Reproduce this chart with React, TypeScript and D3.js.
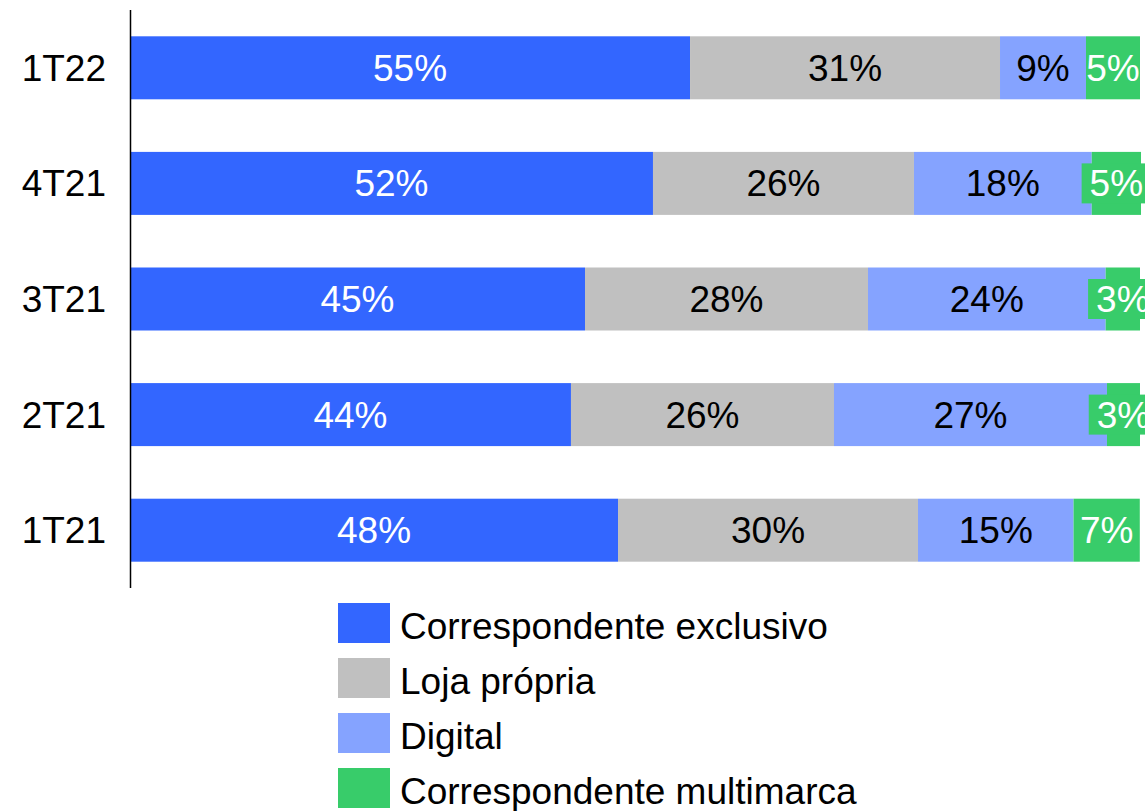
import React, { useEffect, useRef } from 'react';
import * as d3 from 'd3';

const periods = ['1T22', '4T21', '3T21', '2T21', '1T21'];
const seriesNames = ['Correspondente exclusivo', 'Loja própria', 'Digital', 'Correspondente multimarca'];
const seriesColors = ['#3366ff', '#c0c0c0', '#85a3ff', '#38cc6a'];
const labelColors = ['#ffffff', '#000000', '#000000', '#ffffff'];

// share of each channel per period (%)
const exclusivo = [55.45, 51.78, 45.05, 43.66, 48.32];
const lojaPropria = [30.69, 25.84, 28.02, 26.04, 29.7];
const digital = [8.51, 17.6, 23.53, 27.03, 15.4];
const multimarca = [5.35, 4.88, 3.4, 3.27, 6.56];

const W = 1145;
const H = 811;
const FONT = '"Liberation Sans", Arial, sans-serif';
const FS = 37;

export default function App() {
  const svgRef = useRef<SVGSVGElement>(null);

  useEffect(() => {
    if (!svgRef.current) return;
    const svg = d3.select(svgRef.current);
    svg.selectAll('*').remove();

    const rows = periods.map((p, i) => ({
      period: p,
      values: [exclusivo[i], lojaPropria[i], digital[i], multimarca[i]],
    }));

    const x = d3.scaleLinear().domain([0, 100]).range([130, 1140]);
    const y = d3.scaleBand()
      .domain(periods)
      .range([10, 588])
      .paddingInner(0.455)
      .paddingOuter(0.2275);

    const g = svg.append('g').style('font-family', FONT).style('font-size', `${FS}px`);

    // Bars
    rows.forEach(row => {
      let acc = 0;
      const segs = row.values.map((v, k) => {
        const s = { k, x0: acc, x1: acc + v, v };
        acc += v;
        return s;
      });
      const y0 = y(row.period)!;
      const bh = y.bandwidth();

      segs.forEach(s => {
        g.append('rect')
          .attr('x', x(s.x0))
          .attr('y', y0)
          .attr('width', x(s.x1) - x(s.x0))
          .attr('height', bh)
          .attr('fill', seriesColors[s.k]);
      });

      segs.forEach(s => {
        const cx = (x(s.x0) + x(s.x1)) / 2;
        const cy = y0 + bh / 2;
        const label = `${Math.round(s.v)}%`;
        const t = g.append('text')
          .attr('x', cx)
          .attr('y', cy)
          .attr('dy', '0.35em')
          .attr('text-anchor', 'middle')
          .attr('fill', labelColors[s.k])
          .text(label);
        const tw = (t.node() as SVGTextElement).getComputedTextLength();
        const segW = x(s.x1) - x(s.x0);
        if (tw > segW + 1) {
          // label overflows: give it a backing box in the segment colour
          g.insert('rect', () => t.node())
            .attr('x', cx - tw / 2 - 8)
            .attr('y', cy - 20)
            .attr('width', tw + 16)
            .attr('height', 40)
            .attr('fill', seriesColors[s.k]);
        }
      });
    });

    // Category axis
    g.append('line')
      .attr('x1', 130.5).attr('x2', 130.5)
      .attr('y1', 10).attr('y2', 588)
      .attr('stroke', '#000')
      .attr('stroke-width', 1.5);

    g.selectAll('text.cat')
      .data(periods)
      .join('text')
      .attr('class', 'cat')
      .attr('x', 106)
      .attr('y', d => y(d)! + y.bandwidth() / 2)
      .attr('dy', '0.35em')
      .attr('text-anchor', 'end')
      .attr('fill', '#000')
      .text(d => d);

    // Legend
    const leg = g.append('g');
    seriesNames.forEach((name, i) => {
      const ly = 603 + i * 55;
      leg.append('rect')
        .attr('x', 338)
        .attr('y', ly)
        .attr('width', 52)
        .attr('height', 40)
        .attr('fill', seriesColors[i]);
      leg.append('text')
        .attr('x', 400)
        .attr('y', ly + 23)
        .attr('dy', '0.35em')
        .attr('fill', '#000')
        .text(name);
    });
  }, []);

  return (
    <svg
      ref={svgRef}
      width={W}
      height={H}
      style={{ position: 'absolute', left: 0, top: 0, background: '#fff' }}
    />
  );
}
